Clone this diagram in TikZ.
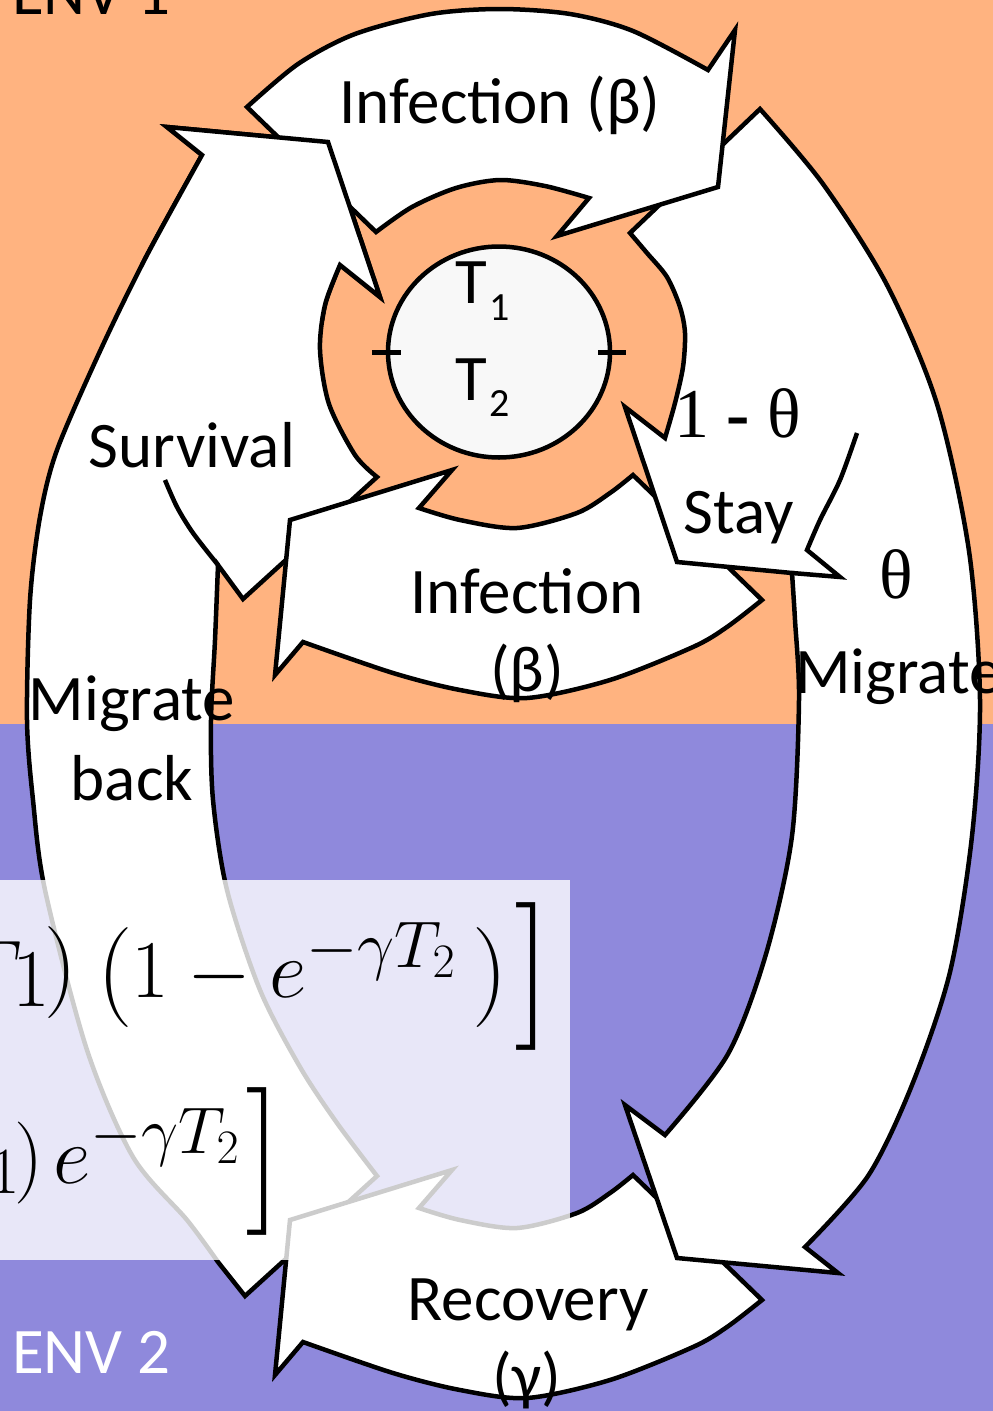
\RequirePackage{fix-cm}
\documentclass[tikz,border=0pt]{standalone}
\usepackage{exscale}
\usepackage{fontspec}
\setmainfont{Carlito}
\newfontfamily\tnrfont{Liberation Serif}
\usetikzlibrary{shapes.geometric}
\DeclareMathSizes{82}{82}{66}{48}
\definecolor{envorange}{RGB}{255,179,128}
\definecolor{envpurple}{RGB}{143,137,220}
\definecolor{circfill}{RGB}{248,248,248}
\tikzset{
  arrowbody/.style={fill=white, draw=black, line width=4.5pt, line join=miter},
  edgeline/.style={draw=black, line width=4.5pt, line join=miter},
  lbl/.style={inner sep=0pt, font=\fontsize{65}{78}\selectfont},
  serif/.style={inner sep=0pt, font=\tnrfont\fontsize{70}{80}\selectfont},
  sublbl/.style={inner sep=0pt, font=\fontsize{40}{48}\selectfont},
  mathlbl/.style={inner sep=0pt, font=\fontsize{82}{98}\selectfont},
  mathsz/.style={inner sep=0pt, font=\fontsize{#1}{#1}\selectfont},
  tickline/.style={line width=5pt},
  leftcomp/.pic={
    \path[arrowbody] (202,155) -- (167,127) -- (328,142) -- (380,297)
      -- plot[smooth] coordinates {(340,265) (325,305) (320,350) (329,404) (355,455) (377,477)}
      -- (243,599)
      -- plot[smooth] coordinates {(218,565) (215,640) (211,720) (213,800) (227,890) (260,990) (300,1067) (337,1123) (377,1176)}
      -- (245,1296)
      -- plot[smooth] coordinates {(218,1262) (187,1220) (133,1157) (87,1050) (45,890) (33,800) (27,720) (30,600) (40,517) (57,450) (101,349) (146,257) (202,155)}
      -- cycle;
  },
  infarrow/.pic={
    \path[arrowbody] (633,475)
      -- plot[smooth] coordinates {(762,600) (727,627) (693,647) (610,680) (527,698) (460,690) (393,673) (303,642)}
      -- (275,675) -- (290,520) -- (452,470)
      -- plot[smooth] coordinates {(419,508) (460,520) (517,528) (577,513) (610,493) (633,475)}
      -- cycle;
  }
}
\begin{document}
\begin{tikzpicture}[x=1pt, y=-1pt]
\useasboundingbox (0,0) rectangle (993,1411);
\clip (0,0) rectangle (993,1411);
% backgrounds
\fill[envorange] (0,0) rectangle (993,724);
\fill[envpurple] (0,724) rectangle (993,1411);

% left composite: survival + migrate back
\pic {leftcomp};
\draw[edgeline] plot[smooth] coordinates {(165,480) (177,507) (193,533) (218,565)};

% bottom ring arrow (infection) and recovery arrow
\pic at (0,0) {infarrow};
\pic at (0,700) {infarrow};

% right composite: stay + migrate
\path[arrowbody] (630,233)
  -- plot[smooth] coordinates {(760,109) (823,184) (887,285) (937,404) (969,551) (980,700) (972,836) (950,972) (912,1085) (868,1176) (805,1247)}
  -- (838,1273) -- (677,1258) -- (625,1105)
  -- plot[smooth] coordinates {(665,1135) (728,1054) (766,954) (792,836) (799,700) (795,620) (792,573)}
  -- (677,562) -- (625,407)
  -- plot[smooth] coordinates {(665,438) (675,403) (683,367) (685,333) (680,307) (667,277) (647,253) (630,233)}
  -- cycle;
\draw[edgeline] (792,573) -- (840,577)
  -- plot[smooth] coordinates {(807,550) (820,520) (840,480) (857,433)};

% top ring arrow (infection)
\path[arrowbody] (376,232)
  -- plot[smooth] coordinates {(247,107) (298,64) (355,34) (431,14) (500,9) (570,14) (633,31) (708,70)}
  -- (735,30) -- (718,187) -- (557,236)
  -- plot[smooth] coordinates {(589,198) (545,186) (500,180) (456,188) (412,207) (376,232)}
  -- cycle;

% head of survival arrow lies over the tail of the top arrow
\begin{scope}
  \clip (140,90) rectangle (400,320);
  \pic {leftcomp};
\end{scope}

% central pool
\node[ellipse, draw, fill=circfill, line width=4.5pt, minimum width=222pt, minimum height=211pt, inner sep=0pt] (pool) at (499,352) {};
\draw[tickline] ([xshift=-14pt]pool.west) -- ([xshift=15pt]pool.west);
\draw[tickline] ([xshift=-14pt]pool.east) -- ([xshift=14pt]pool.east);
\node[lbl, anchor=base west] (t1) at (455,303) {T};
\node[sublbl, anchor=base west] (t1s) at (489,320) {1};
\node[lbl, anchor=base west] (t2) at (455,400) {T};
\node[sublbl, anchor=base west] (t2s) at (489,416) {2};

% formula box
\fill[white, fill opacity=0.8] (-10,880) rectangle (570,1260);
% line 1
\node[mathlbl, anchor=base west] (f1t) at (-37,997) {$T$};
\node[mathlbl, anchor=base west] (f1s) at (12,1006) {$1$};
\node[mathsz=92, anchor=base west] (f1p) at (44,995) {$)$};
\node[mathsz=100, anchor=base west] (f1o) at (97,1002) {$($};
\node[mathlbl, anchor=base west] (f1m) at (131,997) {$1-e^{-\gamma T_2}$};
\node[mathsz=100, anchor=base west] (f1q) at (472,1002) {$)$};
\node[mathsz=148, anchor=base west] (f1r) at (514,1013) {$]$};
% line 2
\node[mathlbl, anchor=base west] (f2s) at (-11,1193) {$\scriptstyle 1$};
\node[mathlbl, anchor=base west] (f2p) at (14,1183) {$)$};
\node[mathlbl, anchor=base west] (f2e) at (53,1183) {$e^{-\gamma T_2}$};
\node[mathsz=148, anchor=base west] (f2r) at (245,1198) {$]$};

% labels
\node[lbl, anchor=base] (inftop) at (500,123) {Infection (β)};
\node[lbl, anchor=base] (infbot) at (527,613) {Infection};
\node[lbl, anchor=base] (infbotb) at (527,691) {(β)};
\node[lbl, anchor=base] (surv) at (192,467) {Survival};
\node[serif, anchor=base west] (stayp) at (674,437) {1 {\bfseries -} θ};
\node[lbl, anchor=base] (stay) at (739,533) {Stay};
\node[serif, anchor=base] (migp) at (896,598) {θ};
\node[lbl, anchor=base west] (migr) at (795,693) {Migrate};
\node[lbl, anchor=base] (migl) at (132,720) {Migrate};
\node[lbl, anchor=base] (back) at (132,800) {back};
\node[lbl, anchor=base] (recov) at (528,1320) {Recovery};
\node[lbl, anchor=base] (recovb) at (527,1398) {(γ)};
\node[lbl, anchor=base west, text=white] (env2) at (12,1373) {ENV 2};
\node[lbl, anchor=base west] (env1) at (12,14) {ENV 1};
\end{tikzpicture}
\end{document}
